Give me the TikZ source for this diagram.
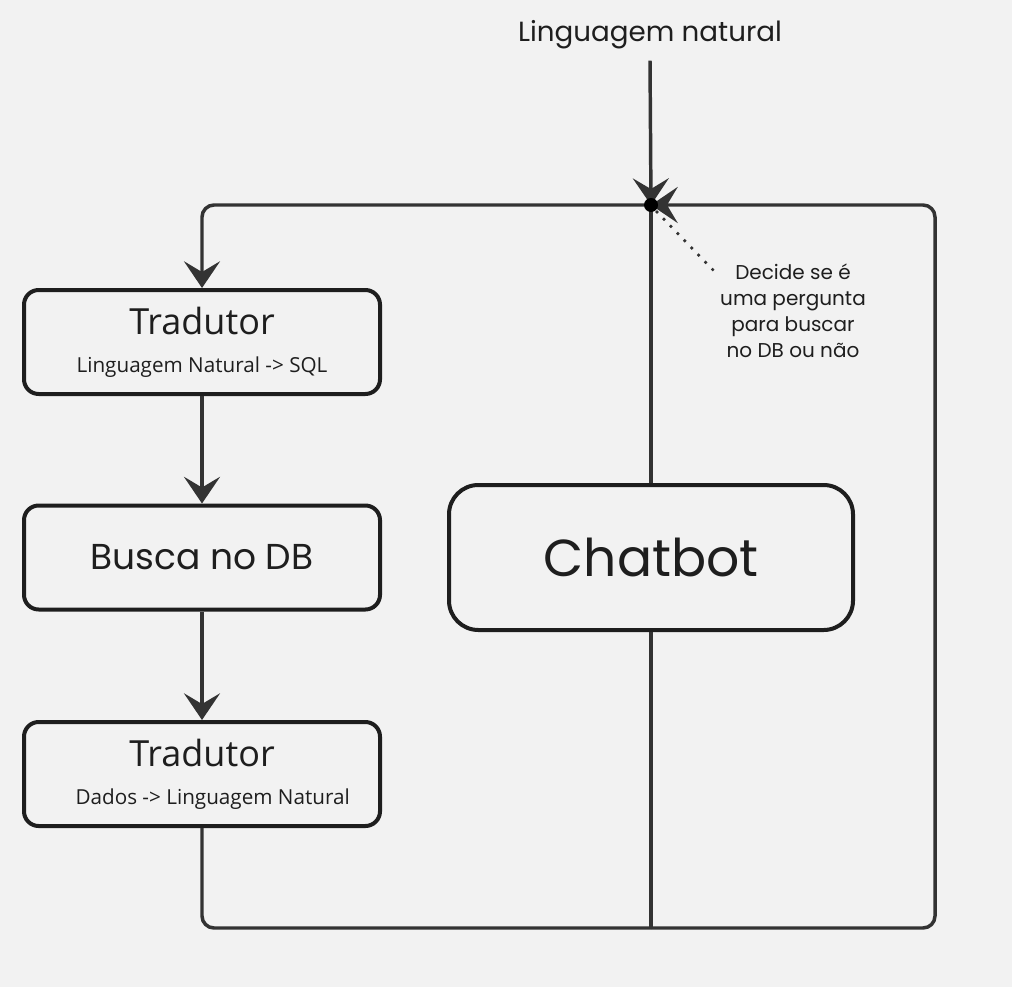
\documentclass[tikz,border=0pt]{standalone}
\usepackage{fontspec}
\setmainfont{Poppins}
\newfontfamily\subfont{Open Sans}
\usepackage{xcolor}
\usepackage{tikz}
\usetikzlibrary{arrows.meta, positioning}
\definecolor{fundo}{HTML}{F2F2F2}
\definecolor{traco}{HTML}{333333}
\definecolor{tinta}{HTML}{1E1E1E}
\newcommand{\titulo}{\fontsize{27}{28.5}\selectfont}
\newcommand{\subtitulo}{\subfont\fontsize{15.5}{28.5}\selectfont}

\tikzset{
  caixa/.style={draw=tinta, line width=3pt, rounded corners=11pt, minimum width=267pt,
    minimum height=78pt, inner sep=0pt, text=tinta, align=center},
  linha/.style={draw=traco, line width=2.6pt, rounded corners=9pt},
  seta/.style={linha, -{Stealth[length=20pt, width=27pt, inset=8pt]}},
  pontilhado/.style={draw=traco, line width=2.8pt, line cap=round, dash pattern=on 0pt off 7.5pt},
}

\begin{document}
\begin{tikzpicture}[x=0.75pt, y=-0.75pt]
    % Fundo
    \fill[fundo] (0,0) rectangle (1012,987);
    % Entrada
    \node[font=\fontsize{20.8}{24}\selectfont, text=tinta] (entrada) at (650,35) {Linguagem natural};
    % Caixas
    \node[caixa, font=\subtitulo] (trad1) at (202,342) {{\titulo Tradutor}\\Linguagem Natural -> SQL};
    \node[caixa] (busca) at (202,557.5) {\titulo Busca no DB};
    \node[caixa, font=\subtitulo] (trad2) at (202,774) {{\titulo Tradutor}\\\hspace*{16pt}Dados -> Linguagem Natural};
    \node[caixa, rounded corners=22pt, minimum width=303pt, minimum height=108.75pt,
      font=\fontsize{39}{44}\selectfont] (chat) at (651,557.5) {Chatbot};
    % Pontos
    \coordinate (junc) at (651,205);
    \coordinate (base) at (651,928);
    \coordinate (cantodir) at (935,205);
    \coordinate (pontafim) at (716,273);
    % Ligacoes
    \draw[seta] ([yshift=-5pt]entrada.south) -- (junc);
    \draw[seta] (junc) -| (trad1.north);
    \draw[seta] (trad1) -- (busca);
    \draw[seta] (busca) -- (trad2);
    \draw[linha] (trad2.south) |- (base);
    \draw[linha] (junc) -- (chat.north);
    \draw[linha] (chat.south) -- (base);
    \draw[seta] (base) -| (cantodir) -- (junc);
    \fill[black] (junc) circle (5.25pt);
    % Nota
    \node[font=\fontsize{15}{19.5}\selectfont, align=center, text=tinta] (nota) at (793,311)
      {Decide se é\\uma pergunta\\para buscar\\no DB ou não};
    \draw[pontilhado] ([shift={(6,7)}]junc) -- (pontafim);
\end{tikzpicture}
\end{document}
